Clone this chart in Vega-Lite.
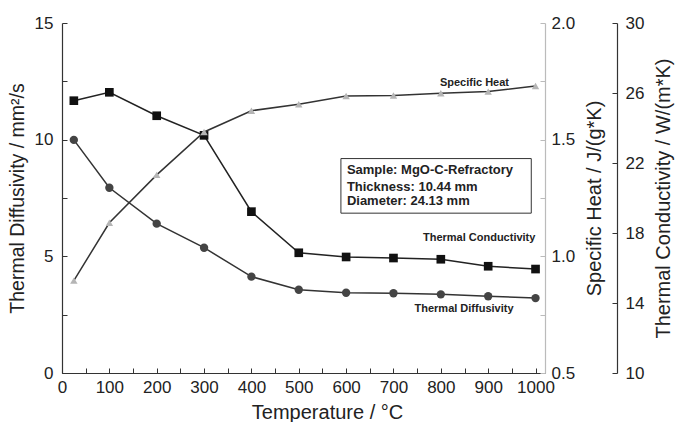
{
  "$schema": "https://vega.github.io/schema/vega-lite/v6.json",
  "width": 483,
  "height": 350,
  "autosize": "none",
  "padding": {"left": 62, "top": 23, "right": 130, "bottom": 49},
  "background": "white",
  "config": {
    "font": "Liberation Sans",
    "view": {"stroke": null},
    "axis": {
      "grid": false,
      "labelFont": "Liberation Sans",
      "titleFont": "Liberation Sans",
      "labelFontSize": 17,
      "titleFontSize": 20,
      "titleFontWeight": "normal",
      "labelColor": "#222",
      "titleColor": "#222",
      "domainColor": "#333",
      "tickColor": "#333",
      "domainWidth": 1.2,
      "tickWidth": 1
    }
  },
  "datasets": {
    "measured": [
      {"T": 25, "diffusivity": 9.99, "conductivity": 25.56, "heat": 0.896},
      {"T": 100, "diffusivity": 7.94, "conductivity": 26.04, "heat": 1.144},
      {"T": 200, "diffusivity": 6.40, "conductivity": 24.70, "heat": 1.349},
      {"T": 300, "diffusivity": 5.37, "conductivity": 23.58, "heat": 1.533},
      {"T": 400, "diffusivity": 4.13, "conductivity": 19.22, "heat": 1.624},
      {"T": 500, "diffusivity": 3.57, "conductivity": 16.87, "heat": 1.652},
      {"T": 600, "diffusivity": 3.44, "conductivity": 16.63, "heat": 1.687},
      {"T": 700, "diffusivity": 3.42, "conductivity": 16.57, "heat": 1.689},
      {"T": 800, "diffusivity": 3.37, "conductivity": 16.50, "heat": 1.699},
      {"T": 900, "diffusivity": 3.29, "conductivity": 16.10, "heat": 1.706},
      {"T": 1000, "diffusivity": 3.21, "conductivity": 15.94, "heat": 1.730}
    ],
    "seriesLabels": [
      {"T": 871, "diffusivity": 12.43, "text": "Specific Heat"},
      {"T": 881, "diffusivity": 5.77, "text": "Thermal Conductivity"},
      {"T": 849, "diffusivity": 2.73, "text": "Thermal Diffusivity"}
    ],
    "box": [
      {"T": 589, "T2": 991, "diffusivity": 6.85, "diffusivity2": 9.19}
    ],
    "boxLines": [
      {"T": 601.6, "diffusivity": 8.70, "text": "Sample: MgO-C-Refractory"},
      {"T": 601.6, "diffusivity": 7.99, "text": "Thickness: 10.44 mm"},
      {"T": 601.6, "diffusivity": 7.37, "text": "Diameter: 24.13 mm"}
    ]
  },
  "encoding": {
    "x": {
      "field": "T",
      "type": "quantitative",
      "scale": {"domain": [0, 1020], "nice": false, "zero": false},
      "axis": {
        "title": "Temperature / °C",
        "values": [0, 50, 100, 150, 200, 250, 300, 350, 400, 450, 500, 550, 600, 650, 700, 750, 800, 850, 900, 950, 1000],
        "format": "d",
        "labelExpr": "datum.value % 100 == 0 ? datum.label : ''",
        "labelOverlap": false,
        "labelFlush": false,
        "tickSize": -5,
        "labelPadding": 11,
        "titlePadding": 7,
        "titleX": 265
      }
    }
  },
  "layer": [
    {
      "layer": [
        {
          "data": {"name": "measured"},
          "mark": {"type": "line", "color": "#333", "strokeWidth": 1.5},
          "encoding": {
            "y": {
              "field": "diffusivity",
              "type": "quantitative",
              "scale": {"domain": [0, 15], "nice": false, "zero": false},
              "axis": {
                "title": "Thermal Diffusivity / mm²/s",
                "titleFontSize": 19.5,
                "orient": "left",
                "values": [0, 2.5, 5, 7.5, 10, 12.5, 15],
                "labelExpr": "datum.value % 5 == 0 ? datum.label : ''",
                "labelOverlap": false,
                "labelFlush": false,
                "tickSize": -5,
                "labelPadding": 14,
                "titlePadding": 7
              }
            }
          }
        },
        {
          "data": {"name": "measured"},
          "mark": {"type": "point", "shape": "circle", "filled": true, "size": 70, "color": "#444", "opacity": 1},
          "encoding": {
            "y": {"field": "diffusivity", "type": "quantitative"}
          }
        },
        {
          "data": {"name": "box"},
          "mark": {"type": "rect", "fill": "white", "stroke": "#333", "strokeWidth": 1},
          "encoding": {
            "x2": {"field": "T2"},
            "y": {"field": "diffusivity", "type": "quantitative"},
            "y2": {"field": "diffusivity2"}
          }
        },
        {
          "data": {"name": "boxLines"},
          "mark": {"type": "text", "align": "left", "baseline": "middle", "fontSize": 13, "fontWeight": "bold", "color": "#222", "font": "Liberation Sans"},
          "encoding": {
            "y": {"field": "diffusivity", "type": "quantitative"},
            "text": {"field": "text"}
          }
        },
        {
          "data": {"name": "seriesLabels"},
          "mark": {"type": "text", "align": "center", "baseline": "middle", "fontSize": 11, "fontWeight": "bold", "color": "#222", "font": "Liberation Sans"},
          "encoding": {
            "y": {"field": "diffusivity", "type": "quantitative"},
            "text": {"field": "text"}
          }
        }
      ]
    },
    {
      "data": {"name": "measured"},
      "layer": [
        {
          "mark": {"type": "line", "color": "#222", "strokeWidth": 1.5},
          "encoding": {
            "y": {
              "field": "conductivity",
              "type": "quantitative",
              "scale": {"domain": [10, 30], "nice": false, "zero": false},
              "axis": {
                "title": "Thermal Conductivity / W/(m*K)",
                "orient": "right",
                "offset": 72,
                "values": [10, 11, 12, 13, 14, 15, 16, 17, 18, 19, 20, 21, 22, 23, 24, 25, 26, 27, 28, 29, 30],
                "labelExpr": "datum.value % 2 == 0 ? datum.label : ''",
                "labelOverlap": false,
                "labelFlush": false,
                "tickSize": -5,
                "labelPadding": 13,
                "titlePadding": 10,
                "titleAngle": 270,
                "titleBaseline": "top"
              }
            }
          }
        },
        {
          "mark": {"type": "point", "shape": "square", "filled": true, "size": 75, "color": "#111", "opacity": 1},
          "encoding": {
            "y": {"field": "conductivity", "type": "quantitative"}
          }
        }
      ]
    },
    {
      "data": {"name": "measured"},
      "layer": [
        {
          "mark": {"type": "line", "color": "#333", "strokeWidth": 1.5},
          "encoding": {
            "y": {
              "field": "heat",
              "type": "quantitative",
              "scale": {"domain": [0.5, 2.0], "nice": false, "zero": false},
              "axis": {
                "title": "Specific Heat / J/(g*K)",
                "orient": "right",
                "values": [0.5, 0.75, 1.0, 1.25, 1.5, 1.75, 2.0],
                "format": ".1f",
                "labelExpr": "(datum.value * 2) % 1 == 0 ? datum.label : ''",
                "labelOverlap": false,
                "labelFlush": false,
                "domainColor": "#bbb",
                "tickColor": "#bbb",
                "tickSize": -5,
                "labelPadding": 11,
                "titlePadding": 10,
                "titleAngle": 270,
                "titleBaseline": "top"
              }
            }
          }
        },
        {
          "mark": {"type": "point", "shape": "triangle-up", "filled": true, "size": 55, "color": "#b5b5b5", "opacity": 1},
          "encoding": {
            "y": {"field": "heat", "type": "quantitative"}
          }
        }
      ]
    }
  ],
  "resolve": {"scale": {"y": "independent"}}
}
